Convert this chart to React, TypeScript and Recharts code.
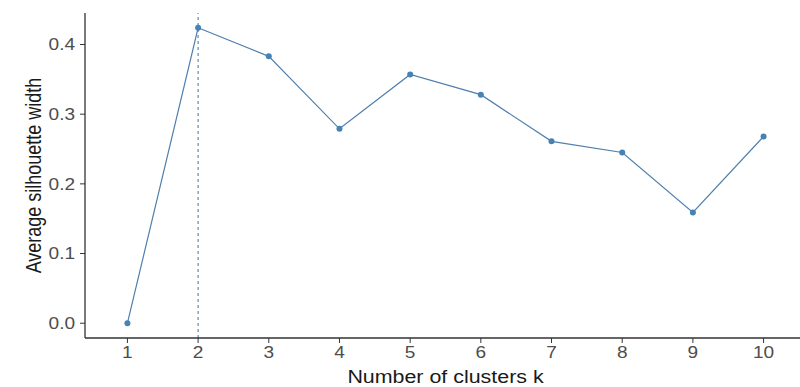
import { LineChart, Line, XAxis, YAxis, ReferenceLine, Label } from 'recharts'

// silhouette widths, k = 1..10
const clusters = [1, 2, 3, 4, 5, 6, 7, 8, 9, 10]
const silhouette = [0, 0.424, 0.383, 0.279, 0.357, 0.328, 0.261, 0.245, 0.159, 0.268]
const yTicks = [0, 0.1, 0.2, 0.3, 0.4]
const bestK = 2

const data = clusters.map((k, i) => ({ k, width: silhouette[i] }))

const FONT = '"Liberation Sans", Arial, sans-serif'
const BLUE = '#4682B4'
const INK = '#333333'
// the reference is stretched sideways a little, so text gets the same squash
const SX = 1.19

function XTick({ x, y, payload }: any) {
  return (
    <text transform={`translate(${x},${y}) scale(${SX},1)`} textAnchor="middle" dy="0.71em"
      fontSize={16} fill="#4d4d4d" fontFamily={FONT}>
      {payload.value}
    </text>
  )
}

function YTick({ x, y, payload }: any) {
  return (
    <text transform={`translate(${x},${y}) scale(${SX},1)`} textAnchor="end" dy="0.355em"
      fontSize={16} fill="#4d4d4d" fontFamily={FONT}>
      {Number(payload.value).toFixed(1)}
    </text>
  )
}

function XTitle({ viewBox }: any) {
  const cx = viewBox.x + viewBox.width / 2
  const by = viewBox.y + 45
  return (
    <text transform={`translate(${cx},${by}) scale(${SX},1)`} textAnchor="middle"
      fontSize={18} fill="#1a1a1a" fontFamily={FONT}>
      Number of clusters k
    </text>
  )
}

function YTitle({ viewBox }: any) {
  const cy = viewBox.y + viewBox.height / 2
  return (
    <text transform={`translate(41,${cy}) scale(${SX},1) rotate(-90)`} textAnchor="middle"
      fontSize={18} fill="#1a1a1a" fontFamily={FONT}>
      Average silhouette width
    </text>
  )
}

export default function App() {
  return (
    <div style={{ position: 'absolute', left: 0, top: 0, width: 800, height: 387, overflow: 'hidden', background: '#fff', fontFamily: FONT }}>
      <LineChart width={806} height={387} data={data} margin={{ top: 13, right: 0, bottom: 0, left: 0 }}>
        <XAxis dataKey="k" type="number" domain={[0.4, 10.6]} ticks={clusters} allowDataOverflow
          height={49} axisLine={{ stroke: INK, strokeWidth: 1.3 }} tickLine={{ stroke: INK }}
          tickSize={5} tickMargin={4} tick={<XTick />} interval={0}>
          <Label content={<XTitle />} />
        </XAxis>
        <YAxis type="number" domain={[-0.0212, 0.4452]} ticks={yTicks} allowDataOverflow
          width={85} axisLine={{ stroke: INK, strokeWidth: 1.3 }} tickLine={{ stroke: INK }}
          tickSize={5} tickMargin={5} tick={<YTick />} interval={0}>
          <Label content={<YTitle />} />
        </YAxis>
        <ReferenceLine x={bestK} stroke={BLUE} strokeDasharray="3 3" strokeWidth={1.1} />
        <Line dataKey="width" stroke="#4f7fac" strokeWidth={1.2} isAnimationActive={false}
          dot={{ r: 3, fill: BLUE, stroke: 'none' }} activeDot={false} />
      </LineChart>
    </div>
  )
}
